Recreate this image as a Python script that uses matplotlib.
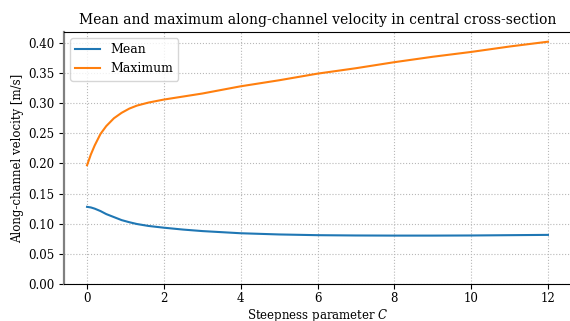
import matplotlib
matplotlib.use("Agg")
import matplotlib.pyplot as plt

plt.rcParams['font.family'] = ['DejaVu Serif']
plt.rcParams['mathtext.fontset'] = 'dejavuserif'

C = [0, 0.1, 0.2, 0.35, 0.5, 0.7, 0.9, 1.1, 1.3, 1.6, 2.0, 2.5, 3, 4, 5, 6, 7, 8, 9, 10, 11, 12]
mean_vel = [0.128, 0.127, 0.125, 0.121, 0.116, 0.111, 0.106, 0.1025, 0.0995, 0.0963, 0.0934,
            0.0903, 0.0878, 0.0842, 0.0822, 0.081, 0.0805, 0.0803, 0.0803, 0.0805, 0.081, 0.0815]
max_vel = [0.197, 0.215, 0.230, 0.249, 0.262, 0.275, 0.284, 0.291, 0.296, 0.301, 0.306,
           0.311, 0.316, 0.328, 0.338, 0.349, 0.358, 0.368, 0.377, 0.385, 0.394, 0.402]

fig = plt.figure(figsize=(5.7, 3.21), dpi=100)
ax = fig.add_axes([64/570, 37/321, 507/570, 252/321])
ax.plot(C, mean_vel, color='#1f77b4', lw=1.5, label='Mean')
ax.plot(C, max_vel, color='#ff7f0e', lw=1.5, label='Maximum')
ax.set_ylim(bottom=0)
ax.set_yticks([0, 0.05, 0.10, 0.15, 0.20, 0.25, 0.30, 0.35, 0.40])
ax.yaxis.set_major_formatter(matplotlib.ticker.FormatStrFormatter('%.2f'))
ax.set_xticks([0, 2, 4, 6, 8, 10, 12])
ax.grid(True, linestyle=':', color='#b8b8b8', lw=0.8)
ax.tick_params(labelsize=8.5)
ax.tick_params(axis='x', pad=2.5)
ax.spines['left'].set_color('#808080')
ax.spines['left'].set_linewidth(1.6)
ax.set_title('Mean and maximum along-channel velocity in central cross-section', fontsize=10)
ax.set_xlabel('Steepness parameter $C$', fontsize=8.5, labelpad=1.5)
ax.set_ylabel('Along-channel velocity [m/s]', fontsize=8.5, labelpad=2.5)
ax.legend(loc='upper left', fontsize=9)
fig.savefig('out.png', dpi=100)
